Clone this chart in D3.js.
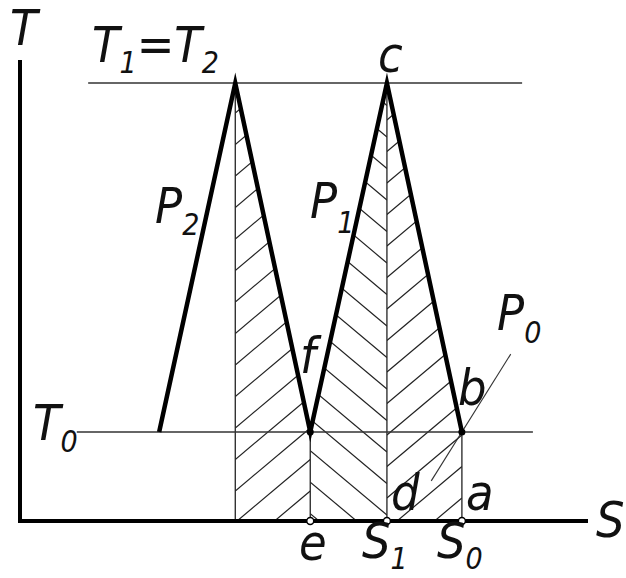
<!DOCTYPE html>
<meta charset="utf-8">
<html>
  <head>
    <style>
      body { margin: 0; background: #fff; }
      text { font-family: "Liberation Sans Narrow", "DejaVu Sans Condensed", sans-serif; font-style: italic; fill: #111; }
    </style>
  </head>
  <body>
    <div id="chart"></div>
  </body>
<script src="https://d3js.org/d3.v7.min.js"></script>
<script>
// T-S diagram, schematic units (0..100 on both axes)

// broken line P2 -> peak -> f -> c -> b
var curveS = [24.5, 37.9, 51.1, 64.6, 77.8];
var curveT = [19.3, 95.0, 19.3, 95.0, 19.3];

// isotherms
var isoT = [95.0, 19.3];
var isoFrom = [12.0, 10.0];
var isoTo = [88.4, 90.3];

// hatched strips: pair of curve points, hatch direction
var stripFrom = [1, 2, 3];
var stripTo = [2, 3, 4];
var stripDir = [1, -1, 1];

// P0 leader line (through b)
var leaderS = [72.4, 86.4];
var leaderT = [8.7, 36.2];

// points on the S axis: e, S1, S0
var axisPts = [51.1, 64.6, 77.8];

var width = 626, height = 578;

var svg = d3.select("#chart")
  .append("svg")
    .attr("width", width)
    .attr("height", height);

var x = d3.scaleLinear().domain([0, 100]).range([20, 588]);
var y = d3.scaleLinear().domain([0, 100]).range([521, 60]);

var pts = curveS.map(function(s, i) { return [x(s), y(curveT[i])]; });

// hatching, clipped to each strip
var defs = svg.append("defs");
var step = 31.5, slope = 0.84;
stripFrom.forEach(function(a, k) {
  var b = stripTo[k];
  var poly = [[pts[a][0], y(0)], pts[a], pts[b], [pts[b][0], y(0)]];
  defs.append("clipPath").attr("id", "clip" + k)
    .append("polygon")
      .attr("points", poly.map(function(p) { return p.join(","); }).join(" "));
  var x0 = pts[a][0], x1 = pts[b][0];
  var anchors = [459.5, 515, 498];
  var lines = [];
  for (var n = -20; n <= 4; n++) {
    var c = anchors[k] + n * step;
    if (stripDir[k] > 0) lines.push([x0, c, x1, c - slope * (x1 - x0)]);
    else lines.push([x0, c - slope * (x1 - x0), x1, c]);
  }
  svg.append("g").attr("clip-path", "url(#clip" + k + ")")
    .selectAll("line").data(lines).enter().append("line")
      .attr("x1", function(d) { return d[0]; })
      .attr("y1", function(d) { return d[1]; })
      .attr("x2", function(d) { return d[2]; })
      .attr("y2", function(d) { return d[3]; })
      .attr("stroke", "#222").attr("stroke-width", 1.2);
});

// vertical lines under the curve points
svg.selectAll(".vline").data(curveS.slice(1)).enter().append("line")
  .attr("x1", function(d) { return x(d); })
  .attr("x2", function(d) { return x(d); })
  .attr("y1", function(d, i) { return y(curveT[i + 1]); })
  .attr("y2", y(0))
  .attr("stroke", "#222").attr("stroke-width", 1.3);

// isotherms
svg.selectAll(".iso").data(isoT).enter().append("line")
  .attr("x1", function(d, i) { return x(isoFrom[i]); })
  .attr("x2", function(d, i) { return x(isoTo[i]); })
  .attr("y1", function(d) { return y(d); })
  .attr("y2", function(d) { return y(d); })
  .attr("stroke", "#333").attr("stroke-width", 1.4);

// leader for P0
svg.append("line")
  .attr("x1", x(leaderS[0])).attr("y1", y(leaderT[0]))
  .attr("x2", x(leaderS[1])).attr("y2", y(leaderT[1]))
  .attr("stroke", "#333").attr("stroke-width", 1.1);

// axes
svg.append("line").attr("x1", x(0)).attr("x2", x(0)).attr("y1", y(100)).attr("y2", y(0) + 2)
  .attr("stroke", "#000").attr("stroke-width", 4);
svg.append("line").attr("x1", x(0) - 2).attr("x2", x(100)).attr("y1", y(0)).attr("y2", y(0))
  .attr("stroke", "#000").attr("stroke-width", 4);

// bold process line
svg.append("path")
  .attr("d", d3.line()(pts))
  .attr("fill", "none")
  .attr("stroke", "#000")
  .attr("stroke-width", 4.5)
  .attr("stroke-linejoin", "miter")
  .attr("stroke-miterlimit", 10);

// points f, b and axis points
svg.selectAll(".pt").data([pts[2], pts[4]]).enter().append("circle")
  .attr("cx", function(d) { return d[0]; })
  .attr("cy", function(d) { return d[1]; })
  .attr("r", 3.5).attr("fill", "#000");
svg.selectAll(".ax").data(axisPts).enter().append("circle")
  .attr("cx", function(d) { return x(d); })
  .attr("cy", y(0))
  .attr("r", 3.5).attr("fill", "#fff").attr("stroke", "#000").attr("stroke-width", 1.5);

// labels
function label(px, py, main, sub, dy, size) {
  var t = svg.append("text").attr("x", px).attr("y", py).style("font-size", (size || 50) + "px");
  t.append("tspan").text(main);
  if (sub) t.append("tspan").attr("dy", dy).style("font-size", "30px").text(sub);
  return t;
}

label(10, 45, "T");
var t12 = svg.append("text").attr("x", 92).attr("y", 62).style("font-size", "50px");
t12.append("tspan").text("T");
t12.append("tspan").attr("dy", 11).style("font-size", "30px").text("1");
t12.append("tspan").attr("dy", -11).text("=T");
t12.append("tspan").attr("dy", 11).style("font-size", "30px").text("2");
label(378, 72, "c");
label(155, 223, "P", "2", 12);
label(310, 218, "P", "1", 15);
label(300, 373, "f");
label(458, 405, "b");
label(497, 330, "P", "0", 13);
label(33, 440, "T", "0", 12);
label(391, 510, "d");
label(466, 510, "a");
label(299, 560, "e");
label(362, 558, "S", "1", 11);
label(437, 558, "S", "0", 11);
label(596, 537, "S");
</script>
</html>
